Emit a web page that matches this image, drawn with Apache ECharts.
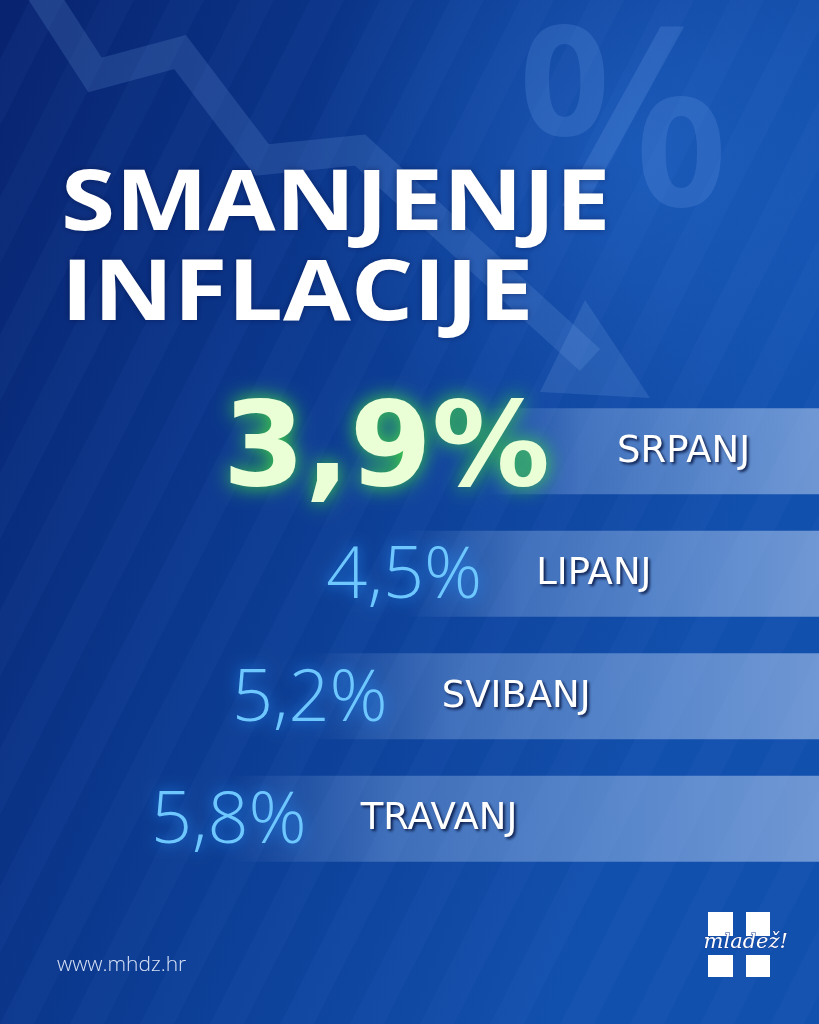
<!DOCTYPE html>
<html>
<head>
<meta charset="utf-8">
<script src="https://cdn.jsdelivr.net/npm/echarts@6/dist/echarts.min.js"></script>
<style>
html,body{margin:0;padding:0;background:#0a2f86;}
#c{width:819px;height:1024px;}
</style>
</head>
<body>
<div id="c"></div>
<script>
const months = ['SRPANJ', 'LIPANJ', 'SVIBANJ', 'TRAVANJ'];
const inflation = [3.9, 4.5, 5.2, 5.8];
const valueLabels = ['3,9%', '4,5%', '5,2%', '5,8%'];
const titleLines = ['SMANJENJE', 'INFLACIJE'];
const website = 'www.mhdz.hr';

const chart = echarts.init(document.getElementById('c'), null, {renderer: 'canvas'});

// background stripes
const stripes = [];
for (let i = -8; i < 14; i++) {
  const x0 = i * 70;
  stripes.push({
    type: 'polygon', z: -90, silent: true,
    shape: {points: [[x0, 1024], [x0 + 34, 1024], [x0 + 34 + 520, 0], [x0 + 520, 0]]},
    style: {fill: 'rgba(120,170,255,0.045)'}
  });
}

const barGradient = new echarts.graphic.LinearGradient(0, 0, 1, 0, [
  {offset: 0, color: 'rgba(175,205,245,0)'},
  {offset: 0.28, color: 'rgba(175,205,245,0.3)'},
  {offset: 1, color: 'rgba(195,215,245,0.52)'}
]);

const labelData = inflation.map((v, i) => {
  const item = {value: v};
  if (i === 0) {
    item.label = {
      fontSize: 118, fontWeight: 'bold', fontFamily: 'DejaVu Sans', color: '#eaffd6',
      textShadowColor: 'rgba(70,230,60,0.95)', textShadowBlur: 20,
      offset: [63, 3]
    };
  }
  return item;
});

function titleText(txt, y) {
  return {type: 'text', z: 10, x: 61, y: y, scaleX: 1.17, silent: true,
    style: {text: txt, x: 0, y: 0, verticalAlign: 'top', fontSize: 84, fontFamily: 'Open Sans', fontWeight: 700,
      fill: '#ffffff', textShadowColor: 'rgba(0,0,40,0.4)', textShadowBlur: 6}};
}

chart.setOption({
  animation: false,
  graphic: [
    {type: 'rect', z: -100, silent: true, shape: {x: 0, y: 0, width: 819, height: 1024},
      style: {fill: new echarts.graphic.LinearGradient(0, 0, 1, 0.3, [
        {offset: 0, color: '#08236f'},
        {offset: 0.5, color: '#0b3a90'},
        {offset: 1, color: '#1250ad'}
      ])}},
    {type: 'circle', z: -95, silent: true, shape: {cx: 640, cy: 150, r: 330},
      style: {fill: new echarts.graphic.RadialGradient(0.5, 0.5, 0.5, [
        {offset: 0, color: 'rgba(40,110,210,0.5)'},
        {offset: 1, color: 'rgba(40,110,210,0)'}
      ])}},
    ...stripes,
    {type: 'polyline', z: -80, silent: true,
      shape: {points: [[40, -10], [95, 75], [180, 52], [262, 160], [360, 150], [590, 360]]},
      style: {stroke: 'rgba(130,170,235,0.18)', lineWidth: 30, fill: null, lineJoin: 'miter'}},
    {type: 'polygon', z: -80, silent: true,
      shape: {points: [[585, 300], [650, 398], [540, 392]]},
      style: {fill: 'rgba(130,170,235,0.18)'}},
    {type: 'text', z: -80, silent: true, left: 515, top: 10,
      style: {text: '%', fontSize: 250, fontFamily: 'Open Sans', fontWeight: 600, fill: 'rgba(110,160,230,0.22)'}},
    titleText(titleLines[0], 164),
    titleText(titleLines[1], 254),
    {type: 'text', z: 10, left: 57, top: 955,
      style: {text: website, fontSize: 21, fontFamily: 'Open Sans', fontWeight: 300, fill: '#d8e2f6'}},
    // logo
    {type: 'rect', z: 10, shape: {x: 708, y: 912, width: 25, height: 24}, style: {fill: '#ffffff'}},
    {type: 'rect', z: 10, shape: {x: 746, y: 912, width: 24, height: 24}, style: {fill: '#ffffff'}},
    {type: 'rect', z: 10, shape: {x: 708, y: 955, width: 25, height: 22}, style: {fill: '#ffffff'}},
    {type: 'rect', z: 10, shape: {x: 746, y: 955, width: 24, height: 22}, style: {fill: '#ffffff'}},
    {type: 'text', z: 11, left: 703, top: 932,
      style: {text: 'mladež!', fontSize: 21, fontFamily: 'DejaVu Serif', fontStyle: 'italic', fill: '#ffffff',
        stroke: '#1a3f95', lineWidth: 1}}
  ],
  grid: {left: 0, right: 0, top: 390, bottom: 144},
  xAxis: {type: 'value', inverse: true, min: 1.44, max: 7.51, show: false},
  yAxis: {type: 'category', inverse: true, data: months, show: false},
  series: [
    {
      type: 'bar', data: inflation, barWidth: 86, z: 2,
      itemStyle: {color: barGradient},
      label: {
        show: true, position: 'insideLeft', distance: 0, offset: [130, 1],
        formatter: p => months[p.dataIndex],
        fontSize: 37, fontFamily: 'DejaVu Sans', color: '#ffffff',
        textShadowColor: 'rgba(0,10,50,0.85)', textShadowBlur: 3, textShadowOffsetX: 2, textShadowOffsetY: 2
      }
    },
    {
      type: 'bar', data: labelData, barWidth: 86, barGap: '-100%', z: 3,
      itemStyle: {color: 'rgba(0,0,0,0)'},
      label: {
        show: true, position: 'insideLeft', distance: 0, align: 'right', offset: [76, 4],
        formatter: p => valueLabels[p.dataIndex],
        fontSize: 72, fontFamily: 'Open Sans', fontWeight: 300, color: '#6ec8ff',
        textShadowColor: 'rgba(40,150,255,0.9)', textShadowBlur: 14
      }
    }
  ]
});
</script>
</body>
</html>
